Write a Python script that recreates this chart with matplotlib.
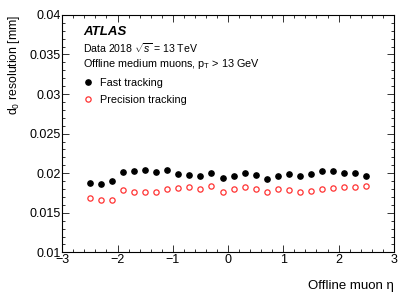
import numpy as np
import matplotlib
matplotlib.use("Agg")
import matplotlib.pyplot as plt
from matplotlib.ticker import MultipleLocator

plt.rcParams['font.family'] = ['Liberation Sans', 'DejaVu Sans']
plt.rcParams['mathtext.fontset'] = 'custom'
plt.rcParams['mathtext.rm'] = 'Liberation Sans'
plt.rcParams['mathtext.it'] = 'Liberation Sans:italic'

# bin centres in eta
eta = [-2.5, -2.3, -2.1, -1.9, -1.7, -1.5, -1.3, -1.1, -0.9, -0.7, -0.5, -0.3, -0.1,
       0.1, 0.3, 0.5, 0.7, 0.9, 1.1, 1.3, 1.5, 1.7, 1.9, 2.1, 2.3, 2.5]

fast_res = [0.01878, 0.01866, 0.01900, 0.02017, 0.02026, 0.02039, 0.02017, 0.02039,
            0.01992, 0.01980, 0.01971, 0.02005, 0.01942, 0.01967, 0.01997, 0.01984,
            0.01929, 0.01967, 0.01992, 0.01963, 0.01992, 0.02022, 0.02026, 0.01997,
            0.02001, 0.01971]

prec_res = [0.01681, 0.01664, 0.01668, 0.01790, 0.01769, 0.01765, 0.01761, 0.01795,
            0.01811, 0.01828, 0.01795, 0.01833, 0.01757, 0.01795, 0.01828, 0.01807,
            0.01765, 0.01803, 0.01786, 0.01761, 0.01774, 0.01795, 0.01811, 0.01820,
            0.01828, 0.01837]

fig = plt.figure(figsize=(4.15, 2.98), dpi=100)
ax = fig.add_axes([0.150, 0.153, 0.799, 0.797])

ax.plot(eta, fast_res, 'o', color='black', markersize=3.8, label='Fast tracking')
ax.plot(eta, prec_res, 'o', markerfacecolor='none', markeredgecolor='#ff3333',
        markeredgewidth=0.9, markersize=3.8, label='Precision tracking')

ax.set_xlim(-3, 3)
ax.set_ylim(0.01, 0.04)
ax.xaxis.set_minor_locator(MultipleLocator(0.2))
ax.yaxis.set_minor_locator(MultipleLocator(0.001))
ax.set_yticks([0.01, 0.015, 0.02, 0.025, 0.03, 0.035, 0.04])
ax.set_yticklabels(['0.01', '0.015', '0.02', '0.025', '0.03', '0.035', '0.04'])
ax.set_xticks([-3, -2, -1, 0, 1, 2, 3])
ax.set_xticklabels(['\u22123', '\u22122', '\u22121', '0', '1', '2', '3'])
ax.tick_params(which='both', direction='in', top=True, right=True, labelsize=9,
               width=0.7, colors='#333333', labelcolor='black')
ax.tick_params(which='major', length=5)
ax.tick_params(which='minor', length=2.5)
ax.tick_params(axis='x', pad=1)
ax.tick_params(axis='y', pad=1)
for s in ax.spines.values():
    s.set_linewidth(0.8)

ax.set_ylabel('d$_0$ resolution [mm]', fontsize=8.8, loc='top')
ax.set_xlabel('Offline muon \u03b7', fontsize=9.5, loc='right')
ax.xaxis.set_label_coords(1.0, -0.115)
ax.yaxis.set_label_coords(-0.12, 1.0)

ax.text(0.062, 0.93, 'ATLAS', transform=ax.transAxes, fontsize=9.5,
        fontweight='bold', fontstyle='italic', va='center')
ax.text(0.062, 0.86, 'Data 2018 $\\sqrt{s}$ = 13 TeV', transform=ax.transAxes,
        fontsize=7.6, va='center')
ax.text(0.062, 0.792, 'Offline medium muons, p$_\\mathrm{T}$ > 13 GeV',
        transform=ax.transAxes, fontsize=7.8, va='center')

leg = ax.legend(loc='upper left', bbox_to_anchor=(0.061, 0.735), frameon=False,
                fontsize=7.8, handletextpad=0.6, labelspacing=0.62,
                handlelength=1.0, borderaxespad=0, borderpad=0)

fig.savefig('out.png', dpi=100)
